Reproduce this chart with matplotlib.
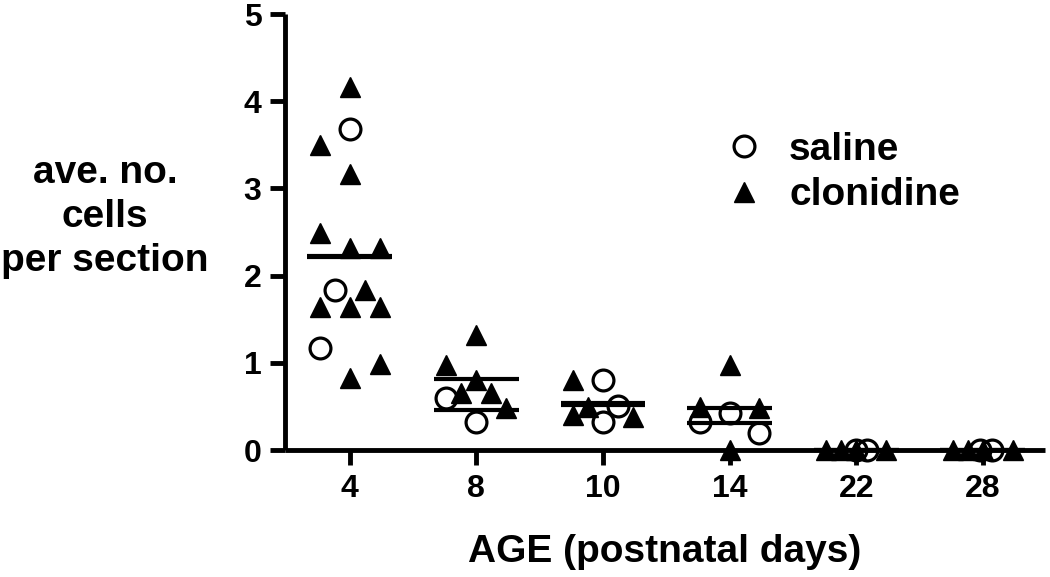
import numpy as np
import matplotlib
matplotlib.use("Agg")
import matplotlib.pyplot as plt
from matplotlib.lines import Line2D

plt.rcParams['font.family'] = ['Liberation Sans', 'DejaVu Sans']
plt.rcParams['font.weight'] = 'bold'

# Données
ages = ['4', '8', '10', '14', '22', '28']

saline_vals = [[3.68, 1.83, 1.17],
               [0.60, 0.32],
               [0.80, 0.50, 0.32],
               [0.42, 0.32, 0.19],
               [0.0, 0.0],
               [0.0, 0.0]]
saline_slots = [[0, -1, -2],
                [-2, 0],
                [0, 1, 0],
                [0, -2, 2],
                [0, 0.7],
                [-0.2, 0.6]]

clonidine_vals = [[4.16, 3.50, 3.17, 2.49, 2.32, 2.32, 1.83, 1.64, 1.64, 1.64, 0.99, 0.83],
                  [1.32, 0.97, 0.80, 0.65, 0.65, 0.48],
                  [0.80, 0.49, 0.40, 0.38],
                  [0.97, 0.49, 0.48, 0.0],
                  [0.0, 0.0, 0.0, 0.0],
                  [0.0, 0.0, 0.0, 0.0]]
clonidine_slots = [[0, -2, 0, -2, 0, 2, 1, -2, 0, 2, 2, 0],
                   [0, -2, 0, -1, 1, 2],
                   [-2, -1, -2, 2],
                   [0, -2, 2, 0],
                   [-2, -1, 0, 2],
                   [-2, -1, 0, 2]]

pas = 0.118       # écart horizontal entre colonnes de points
demi_ligne = 0.335  # demi-largeur des traits de moyenne

fig = plt.figure(figsize=(10.5, 5.77), dpi=100)
ax = fig.add_axes([0.2714, 0.2201, 0.7236, 0.7556])

for i in range(len(ages)):
    xs = i + np.array(clonidine_slots[i]) * pas
    ax.plot(xs, clonidine_vals[i], linestyle='none', marker='^', markersize=14,
            color='black', clip_on=False, zorder=4)
    xs = i + np.array(saline_slots[i]) * pas
    ax.plot(xs, saline_vals[i], linestyle='none', marker='o', markersize=15,
            markerfacecolor='none', markeredgecolor='black', markeredgewidth=2.3,
            clip_on=False, zorder=5)
    # traits de moyenne
    for vals in (saline_vals[i], clonidine_vals[i]):
        ax.hlines(np.mean(vals), i - demi_ligne, i + demi_ligne, color='black',
                  linewidth=3, zorder=3, clip_on=False)

ax.set_xlim(-0.512, 5.49)
ax.set_ylim(0, 5)
ax.set_xticks(range(len(ages)))
ax.set_xticklabels(ages)
ax.set_yticks([0, 1, 2, 3, 4, 5])

for s in ['top', 'right']:
    ax.spines[s].set_visible(False)
for s in ['left', 'bottom']:
    ax.spines[s].set_linewidth(3.5)
    ax.spines[s].set_capstyle('butt')

ax.tick_params(axis='both', direction='out', length=11, width=3.5,
               labelsize=23, pad=6)
for lab in ax.get_xticklabels() + ax.get_yticklabels():
    lab.set_fontweight('bold')

ax.set_xlabel("AGE (postnatal days)", fontsize=28, fontweight='bold', labelpad=22)
fig.text(0.1, 0.624, "ave. no.\ncells\nper section", fontsize=28,
         fontweight='bold', ha='center', va='center', linespacing=1.3)

handles = [Line2D([], [], linestyle='none', marker='o', markersize=15,
                  markerfacecolor='none', markeredgecolor='black', markeredgewidth=2.3),
           Line2D([], [], linestyle='none', marker='^', markersize=14, color='black')]
leg = ax.legend(handles, ['saline', 'clonidine'], frameon=False,
                loc='upper left', bbox_to_anchor=(0.532, 0.766),
                prop={'size': 28, 'weight': 'bold'},
                handletextpad=0.17, labelspacing=0.25, borderaxespad=0)

fig.savefig("out.png", dpi=100)
